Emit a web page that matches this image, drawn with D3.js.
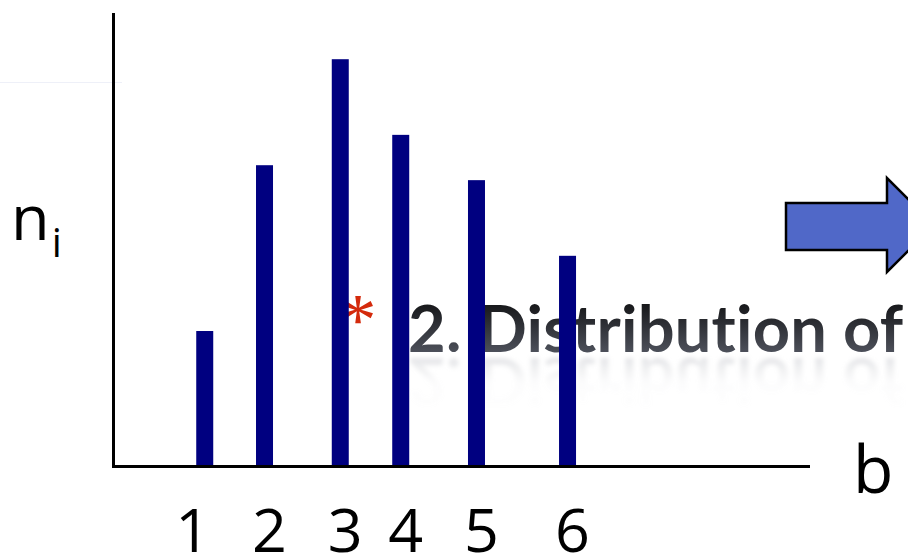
<!DOCTYPE html>
<html>
<head>
<meta charset="utf-8">
<script src="https://cdn.jsdelivr.net/npm/d3@7"></script>
<style>
  html, body { margin: 0; padding: 0; background: #fff; }
  svg { display: block; }
  .title { font-variant-ligatures: none; font-feature-settings: "liga" 0, "clig" 0, "dlig" 0; }
</style>
</head>
<body>
<svg id="chart" width="908" height="558"></svg>
<script>
// ---- data ----
const categories = ["1", "2", "3", "4", "5", "6"];
const bPositions = [1.32, 2.18, 3.27, 4.14, 5.23, 6.54];
const nValues = [2.98, 6.64, 8.98, 7.31, 6.31, 4.64];
const yAxisLabel = "n";
const yAxisSub = "i";
const xAxisLabel = "b";
const overlayTitle = "2. Distribution of";

// ---- layout ----
const svg = d3.select("#chart");
const x = d3.scaleLinear().domain([0, 10]).range([113, 808]);
const y = d3.scaleLinear().domain([0, 10]).range([466, 13]);
const barW = 17;
const labelNudge = [-12, 5, 5, 5, 5, 5];

const defs = svg.append("defs");
const tg = defs.append("linearGradient").attr("id", "tgrad")
  .attr("x1", 0).attr("y1", 0).attr("x2", 0).attr("y2", 1);
tg.append("stop").attr("offset", "0%").attr("stop-color", "#050505");
tg.append("stop").attr("offset", "100%").attr("stop-color", "#5c606c");
const rg = defs.append("linearGradient").attr("id", "rgrad")
  .attr("x1", 0).attr("y1", 0).attr("x2", 0).attr("y2", 1);
rg.append("stop").attr("offset", "0%").attr("stop-color", "#c0c2c8").attr("stop-opacity", 0);
rg.append("stop").attr("offset", "50%").attr("stop-color", "#c8cad0").attr("stop-opacity", 0.05);
rg.append("stop").attr("offset", "100%").attr("stop-color", "#b8bac0").attr("stop-opacity", 0.6);
defs.append("filter").attr("id", "blur").attr("x", "-5%").attr("y", "-30%").attr("width", "110%").attr("height", "160%")
  .append("feGaussianBlur").attr("stdDeviation", 2.2);

// faint line top-left
svg.append("line").attr("x1", 0).attr("x2", 122).attr("y1", 82.5).attr("y2", 82.5)
  .attr("stroke", "#eef0f8").attr("stroke-width", 1);

// overlay title with reflection (behind bars)
const titleX = 408, titleBase = 352;
svg.append("text").attr("class", "title")
  .attr("x", titleX).attr("y", titleBase)
  .attr("transform", `translate(0, ${2 * titleBase + 6}) scale(1,-1)`)
  .attr("font-family", "Lato, 'Open Sans', sans-serif")
  .attr("font-weight", 700).attr("font-size", 65)
  .attr("letter-spacing", "0.2px")
  .attr("fill", "url(#rgrad)").attr("filter", "url(#blur)")
  .text(overlayTitle);
svg.append("text").attr("class", "title")
  .attr("x", titleX).attr("y", titleBase)
  .attr("font-family", "Lato, 'Open Sans', sans-serif")
  .attr("font-weight", 700).attr("font-size", 65)
  .attr("letter-spacing", "0.2px")
  .attr("fill", "url(#tgrad)")
  .text(overlayTitle);

// asterisk
svg.append("text")
  .attr("x", 358).attr("y", 345)
  .attr("text-anchor", "middle")
  .attr("font-family", "'Liberation Serif', serif")
  .attr("font-size", 74)
  .attr("fill", "#d42a0c")
  .text("*");

// arrow
const ax0 = 786, ay1 = 203, ay2 = 250, hx = 887, hy1 = 178, hy2 = 272, tipX = 934, tipY = 225;
svg.append("path")
  .attr("d", `M${ax0},${ay1} L${hx},${ay1} L${hx},${hy1} L${tipX},${tipY} L${hx},${hy2} L${hx},${ay2} L${ax0},${ay2} Z`)
  .attr("fill", "#5068c8").attr("stroke", "#000").attr("stroke-width", 2.5)
  .attr("stroke-linejoin", "miter");

// bars
svg.append("g").selectAll("rect").data(nValues).join("rect")
  .attr("x", (d, i) => x(bPositions[i]) - barW / 2)
  .attr("y", d => y(d))
  .attr("width", barW)
  .attr("height", d => y(0) - y(d))
  .attr("fill", "#000080");

// axes lines
svg.append("line").attr("x1", 113.5).attr("x2", 113.5).attr("y1", 13).attr("y2", 468)
  .attr("stroke", "#000").attr("stroke-width", 3);
svg.append("line").attr("x1", 112).attr("x2", 810).attr("y1", 466.5).attr("y2", 466.5)
  .attr("stroke", "#000").attr("stroke-width", 3);

// tick labels
svg.append("g").selectAll("text").data(categories).join("text")
  .attr("x", (d, i) => x(bPositions[i]) + labelNudge[i])
  .attr("y", 552)
  .attr("text-anchor", "middle")
  .attr("font-family", "'Open Sans', sans-serif")
  .attr("font-size", 61)
  .attr("fill", "#000")
  .text(d => d);

// axis titles
const nt = svg.append("text")
  .attr("x", 11).attr("y", 240)
  .attr("font-family", "'Open Sans', sans-serif")
  .attr("font-size", 63).attr("fill", "#000");
nt.append("tspan").text(yAxisLabel);
nt.append("tspan").attr("font-size", 40).attr("dy", 17).attr("dx", 2).text(yAxisSub);

svg.append("text")
  .attr("x", 853).attr("y", 493)
  .attr("font-family", "'Open Sans', sans-serif")
  .attr("font-size", 66).attr("fill", "#000")
  .text(xAxisLabel);
</script>
</body>
</html>
